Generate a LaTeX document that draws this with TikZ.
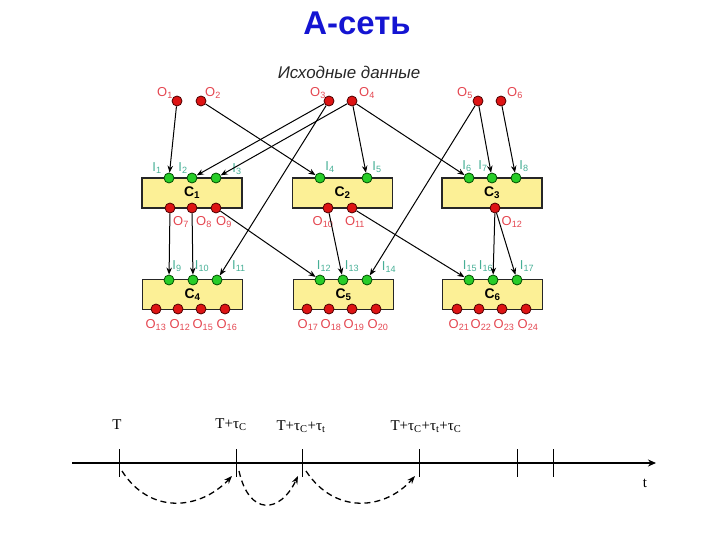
\documentclass[tikz,border=0pt]{standalone}
\usepackage{fontspec}
\setmainfont{Liberation Sans}
\newfontfamily\seriffont{Liberation Serif}
\usetikzlibrary{arrows.meta,calc}
\definecolor{olabc}{RGB}{228,70,80}
\definecolor{ilabc}{RGB}{70,175,150}
\definecolor{boxc}{RGB}{252,240,150}
\definecolor{reddotc}{RGB}{222,20,20}
\definecolor{greendotc}{RGB}{40,205,40}
\definecolor{titlec}{RGB}{20,20,210}
\tikzset{
 odot/.style={circle,draw=black!70!red,fill=reddotc,line width=0.8bp,minimum size=10bp,inner sep=0pt},
 idot/.style={circle,draw=black!70!green,fill=greendotc,line width=0.8bp,minimum size=10bp,inner sep=0pt},
 cbox/.style={rectangle,draw=black!85,fill=boxc,line width=1.3bp,minimum width=100bp,minimum height=30bp,inner sep=0pt,font=\bfseries\fontsize{14}{16}\selectfont},
 olab/.style={text=olabc,inner sep=0pt,font=\fontsize{13}{15}\selectfont},
 ilab/.style={text=ilabc,inner sep=0pt,font=\fontsize{13}{15}\selectfont},
 conn/.style={draw=black,line width=1bp,-{Stealth[length=7bp,width=5.5bp]}},
 tlab/.style={inner sep=0pt,font=\seriffont\fontsize{15}{17}\selectfont},
 jump/.style={draw=black,line width=1.3bp,dash pattern=on 6bp off 4bp,-{Stealth[length=8bp,width=6bp]}},
 tick/.style={draw=black,line width=1bp}
}
\begin{document}
\begin{tikzpicture}[x=1bp,y=-1bp]
\path[use as bounding box] (0,0) rectangle (720,540);
% title
\node[text=titlec,font=\bfseries\fontsize{33}{36}\selectfont,inner sep=0pt] (title) at (357,23) {А-сеть};
\node[font=\itshape\fontsize{17}{19}\selectfont,text=black!85,inner sep=0pt] (src) at (349,72) {Исходные данные};
% source outputs
\node[odot] (o1) at (177,101) {};
\node[odot] (o2) at (201,101) {};
\node[odot] (o3) at (329,101) {};
\node[odot] (o4) at (352,101) {};
\node[odot] (o5) at (478,101) {};
\node[odot] (o6) at (501,101) {};
\node[olab] (lo1) at (165,93) {O\textsubscript{1}};
\node[olab] (lo2) at (213,93) {O\textsubscript{2}};
\node[olab] (lo3) at (318,93) {O\textsubscript{3}};
\node[olab] (lo4) at (367,93) {O\textsubscript{4}};
\node[olab] (lo5) at (465,93) {O\textsubscript{5}};
\node[olab] (lo6) at (515,93) {O\textsubscript{6}};
% boxes
\node[cbox] (c1) at (192,193) {C\textsubscript{1}};
\node[cbox] (c2) at (342.5,193) {C\textsubscript{2}};
\node[cbox] (c3) at (492,193) {C\textsubscript{3}};
\node[cbox] (c4) at (192.5,294.5) {C\textsubscript{4}};
\node[cbox] (c5) at (343.5,294.5) {C\textsubscript{5}};
\node[cbox] (c6) at (492.5,294.5) {C\textsubscript{6}};
% C1
\node[idot] (i1) at (169,178) {};
\node[idot] (i2) at (192,178) {};
\node[idot] (i3) at (216,178) {};
\node[odot] (o7) at (170,208) {};
\node[odot] (o8) at (192,208) {};
\node[odot] (o9) at (216,208) {};
\node[ilab] (li1) at (157,168) {I\textsubscript{1}};
\node[ilab] (li2) at (183,168) {I\textsubscript{2}};
\node[ilab] (li3) at (237,169) {I\textsubscript{3}};
\node[olab] (lo7) at (181,222) {O\textsubscript{7}};
\node[olab] (lo8) at (204,222) {O\textsubscript{8}};
\node[olab] (lo9) at (224,222) {O\textsubscript{9}};
% C2
\node[idot] (i4) at (320,178) {};
\node[idot] (i5) at (367,178) {};
\node[odot] (o10) at (328,208) {};
\node[odot] (o11) at (352,208) {};
\node[ilab] (li4) at (330,167) {I\textsubscript{4}};
\node[ilab] (li5) at (377,167) {I\textsubscript{5}};
\node[olab] (lo10) at (323,222) {O\textsubscript{10}};
\node[olab] (lo11) at (355,222) {O\textsubscript{11}};
% C3
\node[idot] (i6) at (469,178) {};
\node[idot] (i7) at (492,178) {};
\node[idot] (i8) at (516,178) {};
\node[odot] (o12) at (495,208) {};
\node[ilab] (li6) at (467,166) {I\textsubscript{6}};
\node[ilab] (li7) at (483,166) {I\textsubscript{7}};
\node[ilab] (li8) at (524,166) {I\textsubscript{8}};
\node[olab] (lo12) at (512,222) {O\textsubscript{12}};
% C4
\node[idot] (i9) at (169,280) {};
\node[idot] (i10) at (193,280) {};
\node[idot] (i11) at (217,280) {};
\node[odot] (o13) at (156,309) {};
\node[odot] (o14) at (178,309) {};
\node[odot] (o15) at (201,309) {};
\node[odot] (o16) at (225,309) {};
\node[ilab] (li9) at (177,266) {I\textsubscript{9}};
\node[ilab] (li10) at (202,266) {I\textsubscript{10}};
\node[ilab] (li11) at (239,266) {I\textsubscript{11}};
\node[olab] (lo13) at (156,325) {O\textsubscript{13}};
\node[olab] (lo14) at (180,325) {O\textsubscript{12}};
\node[olab] (lo15) at (203,325) {O\textsubscript{15}};
\node[olab] (lo16) at (227,325) {O\textsubscript{16}};
% C5
\node[idot] (i12) at (320,280) {};
\node[idot] (i13) at (343,280) {};
\node[idot] (i14) at (367,280) {};
\node[odot] (o17) at (307,309) {};
\node[odot] (o18) at (329,309) {};
\node[odot] (o19) at (352,309) {};
\node[odot] (o20) at (376,309) {};
\node[ilab] (li12) at (324,266) {I\textsubscript{12}};
\node[ilab] (li13) at (352,266) {I\textsubscript{13}};
\node[ilab] (li14) at (389,267) {I\textsubscript{14}};
\node[olab] (lo17) at (308,325) {O\textsubscript{17}};
\node[olab] (lo18) at (331,325) {O\textsubscript{18}};
\node[olab] (lo19) at (354,325) {O\textsubscript{19}};
\node[olab] (lo20) at (378,325) {O\textsubscript{20}};
% C6
\node[idot] (i15) at (469,280) {};
\node[idot] (i16) at (493,280) {};
\node[idot] (i17) at (517,280) {};
\node[odot] (o21) at (457,309) {};
\node[odot] (o22) at (479,309) {};
\node[odot] (o23) at (502,309) {};
\node[odot] (o24) at (526,309) {};
\node[ilab] (li15) at (470,266) {I\textsubscript{15}};
\node[ilab] (li16) at (486,266) {I\textsubscript{16}};
\node[ilab] (li17) at (527,266) {I\textsubscript{17}};
\node[olab] (lo21) at (459,325) {O\textsubscript{21}};
\node[olab] (lo22) at (481,325) {O\textsubscript{22}};
\node[olab] (lo23) at (504,325) {O\textsubscript{23}};
\node[olab] (lo24) at (528,325) {O\textsubscript{24}};
% connectors
\draw[conn] (o1) -- (i1);
\draw[conn] (o2) -- (i4);
\draw[conn] (o3) -- (i2);
\draw[conn] (o3) -- (i11);
\draw[conn] (o4) -- (i3);
\draw[conn] (o4) -- (i5);
\draw[conn] (o4) -- (i6);
\draw[conn] (o5) -- (i7);
\draw[conn] (o5) -- (i14);
\draw[conn] (o6) -- (i8);
\draw[conn] (o7) -- (i9);
\draw[conn] (o8) -- (i10);
\draw[conn] (o9) -- (i12);
\draw[conn] (o10) -- (i13);
\draw[conn] (o11) -- (i15);
\draw[conn] (o12) -- (i16);
\draw[conn] (o12) -- (i17);
% timeline
\coordinate (ts) at (72,463);
\coordinate (te) at (656,463);
\draw[line width=2bp,-{Stealth[length=8bp,width=7bp]}] (ts) -- (te);
\coordinate (tk1) at (119,463);
\coordinate (tk2) at (236,463);
\coordinate (tk3) at (302,463);
\coordinate (tk4) at (419,463);
\coordinate (tk5) at (517,463);
\coordinate (tk6) at (553,463);
\foreach \k in {tk1,tk2,tk3,tk4,tk5,tk6}{\draw[tick] ($(\k)+(0,-14)$) -- ($(\k)+(0,14)$);}
\node[tlab] (t0) at (117,425) {T};
\node[tlab] (t1) at (231,425) {T+τ\textsubscript{C}};
\node[tlab] (t2) at (301,427) {T+τ\textsubscript{C}+τ\textsubscript{t}};
\node[tlab] (t3) at (426,427) {T+τ\textsubscript{C}+τ\textsubscript{t}+τ\textsubscript{C}};
\node[tlab] (tt) at (645,483) {t};
\coordinate (a1s) at (122,471);
\coordinate (a1e) at (232,476);
\coordinate (a2s) at (239,471);
\coordinate (a2e) at (298,476);
\coordinate (a3s) at (306,471);
\coordinate (a3e) at (415,476);
\draw[jump] (a1s) .. controls (150,515) and (200,510) .. (a1e);
\draw[jump] (a2s) .. controls (249,516) and (280,514) .. (a2e);
\draw[jump] (a3s) .. controls (335,515) and (385,510) .. (a3e);
\end{tikzpicture}
\end{document}
